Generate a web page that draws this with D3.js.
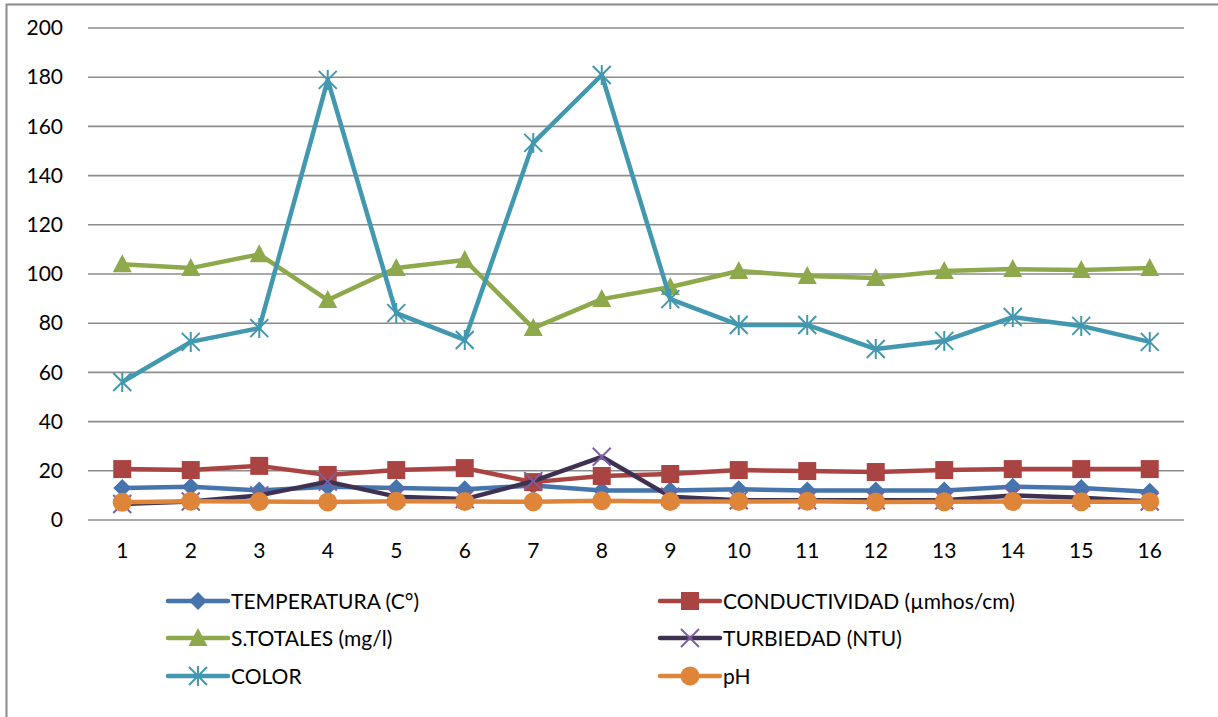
<!DOCTYPE html>
<html><head><meta charset="utf-8">
<script src="https://cdn.jsdelivr.net/npm/d3@7"></script>
<style>body{margin:0;background:#fff}svg{display:block}text{font-family:Lato,"Open Sans",sans-serif;fill:#000}</style>
</head><body><svg id="c" width="1218" height="717"></svg>
<script>
const categories = ["1","2","3","4","5","6","7","8","9","10","11","12","13","14","15","16"];
const yTicks = [0,20,40,60,80,100,120,140,160,180,200];
const temperatura = [13,13.5,12,13.5,13,12.5,14,12,12,12.5,12,12,12,13.5,13,11.5];
const conductividad = [20.7,20.3,22,18.3,20.3,21.1,15.4,17.9,18.7,20.3,19.9,19.5,20.3,20.7,20.7,20.7];
const sTotales = [104,102.4,108,89.4,102.4,105.7,78,89.8,94.7,101.2,99.2,98.4,101.2,102,101.6,102.4];
const turbiedad = [6.5,7.5,10,15.6,9.5,8.5,15.8,25.7,9.5,8,8,8,8,10,9,7.5];
const color = [56.1,72.4,78,178.9,84.1,73.2,153.3,180.9,89.8,79.3,79.3,69.5,72.8,82.5,78.9,72.4];
const ph = [7.2,7.6,7.5,7.3,7.6,7.5,7.4,7.8,7.5,7.5,7.6,7.3,7.4,7.5,7.4,7.4];
const seriesNames = ["TEMPERATURA (C°)","CONDUCTIVIDAD (µmhos/cm)","S.TOTALES (mg/l)","TURBIEDAD (NTU)","COLOR","pH"];

const series = [
  {name:seriesNames[0], values:temperatura, line:"#4674AD", mark:"#4674AD", shape:"diamond"},
  {name:seriesNames[1], values:conductividad, line:"#AA4442", mark:"#AA4442", shape:"square"},
  {name:seriesNames[2], values:sTotales, line:"#8EA94B", mark:"#8EA94B", shape:"triangle"},
  {name:seriesNames[3], values:turbiedad, line:"#3F3151", mark:"#7E5FA4", shape:"x"},
  {name:seriesNames[4], values:color, line:"#4198AF", mark:"#4198AF", shape:"star"},
  {name:seriesNames[5], values:ph, line:"#DE853A", mark:"#DE853A", shape:"circle"}
];

const svg = d3.select("#c");
const L=88, R=1184, T=28, B=520;
const x = d3.scaleBand().domain(categories).range([L,R]);
const y = d3.scaleLinear().domain([0,200]).range([B,T]);

svg.append("rect").attr("x",6.5).attr("y",4.5).attr("width",1230).attr("height",730)
  .attr("fill","none").attr("stroke","#8a8a8a").attr("stroke-width",2);

// gridlines
svg.append("g").selectAll("line").data(yTicks).join("line")
  .attr("x1",L).attr("x2",R).attr("y1",d=>y(d)).attr("y2",d=>y(d))
  .attr("stroke","#8c8c8c").attr("stroke-width",1.6);

// axes labels
const yAxis = d3.axisLeft(y).tickValues(yTicks).tickSize(0).tickPadding(0);
const gy = svg.append("g").attr("transform",`translate(63,0)`).call(yAxis);
gy.select(".domain").remove();
gy.selectAll("text").attr("font-size",21).attr("font-family","Lato").attr("fill","#000");

const xAxis = d3.axisBottom(x).tickSize(0).tickPadding(0);
const gx = svg.append("g").attr("transform",`translate(0,${B+23})`).call(xAxis);
gx.select(".domain").remove();
gx.selectAll("text").attr("font-size",21).attr("font-family","Lato").attr("fill","#000");

function drawMarker(g, shape, col, cx, cy){
  if(shape==="diamond"){
    g.append("path").attr("d",`M${cx},${cy-9}L${cx+9},${cy}L${cx},${cy+9}L${cx-9},${cy}Z`).attr("fill",col);
  } else if(shape==="square"){
    g.append("rect").attr("x",cx-9).attr("y",cy-9).attr("width",18).attr("height",18).attr("fill",col);
  } else if(shape==="triangle"){
    g.append("path").attr("d",`M${cx},${cy-10}L${cx+9.5},${cy+8}L${cx-9.5},${cy+8}Z`).attr("fill",col);
  } else if(shape==="circle"){
    g.append("circle").attr("cx",cx).attr("cy",cy).attr("r",9.5).attr("fill",col);
  } else if(shape==="x"){
    g.append("path").attr("d",`M${cx-9},${cy-9}L${cx+9},${cy+9}M${cx-9},${cy+9}L${cx+9},${cy-9}`).attr("stroke",col).attr("stroke-width",2);
  } else if(shape==="star"){
    g.append("path").attr("d",`M${cx-9},${cy-9}L${cx+9},${cy+9}M${cx-9},${cy+9}L${cx+9},${cy-9}M${cx},${cy-10}L${cx},${cy+10}`).attr("stroke",col).attr("stroke-width",2);
  }
}

const line = d3.line().x((d,i)=>x(categories[i])+x.bandwidth()/2).y(d=>y(d));
series.forEach(s=>{
  const g = svg.append("g");
  g.append("path").datum(s.values).attr("d",line).attr("fill","none")
    .attr("stroke",s.line).attr("stroke-width",4.5).attr("stroke-linejoin","round");
  s.values.forEach((v,i)=>drawMarker(g,s.shape,s.mark,x(categories[i])+x.bandwidth()/2,y(v)));
});

// legend
const legPos = [[168,601],[660,601],[168,638],[660,638],[168,676],[660,676]];
const legFont = [21,22.5,21,21,21,21];
series.forEach((s,i)=>{
  const [lx,ly]=legPos[i];
  const g = svg.append("g");
  g.append("line").attr("x1",lx).attr("x2",lx+60).attr("y1",ly).attr("y2",ly)
    .attr("stroke",s.line).attr("stroke-width",4.5).attr("stroke-linecap","round");
  drawMarker(g,s.shape,s.mark,lx+30,ly);
  g.append("text").attr("x",lx+63).attr("y",ly+8).attr("font-size",21).text(s.name);
});
</script></body></html>
